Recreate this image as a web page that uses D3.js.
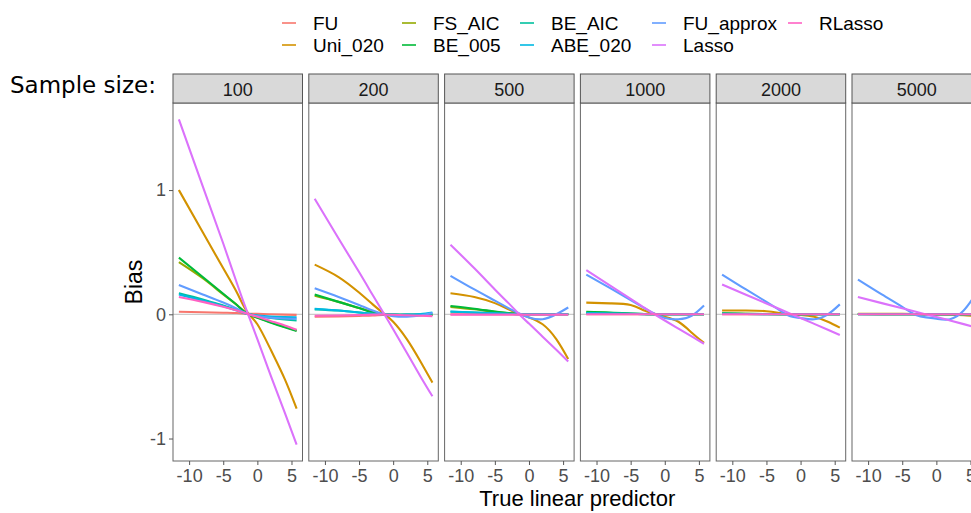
<!DOCTYPE html>
<html>
<head>
<meta charset="utf-8">
<script src="https://cdn.jsdelivr.net/npm/d3@7/dist/d3.min.js"></script>
<style>
  html, body { margin: 0; padding: 0; background: #fff; overflow: hidden; }
  svg { display: block; }
</style>
</head>
<body>
<svg id="chart" width="971" height="513"></svg>
<script>
// ---- data ---------------------------------------------------------------
const sampleSizes = ["100", "200", "500", "1000", "2000", "5000"];
const methods = ["FU", "Uni_020", "FS_AIC", "BE_005", "BE_AIC", "ABE_020", "FU_approx", "Lasso", "RLasso"];
const methodColors = ["#F8766D", "#D39200", "#93AA00", "#00BA38", "#00C19F", "#00B9E3", "#619CFF", "#DB72FB", "#FF61C3"];
const truePredictor = [-11.5, -8, -5, -3, -1.5, 0, 2, 4, 5.75];
const xTicks = [-10, -5, 0, 5];
const yTicks = [-1, 0, 1];

// smoothed bias curves, one row per method (same order as `methods`)
const bias100 = [
  [0.02, 0.017, 0.013, 0.01, 0.005, 0.003, 0, -0.003, -0.005],
  [1.0, 0.66, 0.37, 0.175, 0.02, -0.08, -0.29, -0.52, -0.76],
  [0.42, 0.29, 0.16, 0.075, 0.005, -0.025, -0.065, -0.1, -0.13],
  [0.456, 0.30, 0.165, 0.075, 0.005, -0.028, -0.068, -0.105, -0.135],
  [0.17, 0.12, 0.07, 0.035, 0.005, -0.012, -0.03, -0.042, -0.05],
  [0.16, 0.11, 0.065, 0.03, 0.003, -0.01, -0.018, -0.022, -0.025],
  [0.236, 0.16, 0.095, 0.045, 0.005, -0.015, -0.028, -0.034, -0.036],
  [1.57, 1.03, 0.57, 0.25, 0.02, -0.2, -0.5, -0.79, -1.05],
  [0.14, 0.10, 0.06, 0.03, 0.005, -0.02, -0.055, -0.09, -0.125]
];
const bias200 = [
  [-0.02, -0.017, -0.013, -0.01, -0.006, -0.005, -0.005, -0.005, -0.005],
  [0.40, 0.30, 0.175, 0.08, 0.012, -0.06, -0.2, -0.38, -0.55],
  [0.15, 0.10, 0.05, 0.02, 0.003, -0.005, -0.008, -0.008, -0.005],
  [0.16, 0.10, 0.05, 0.016, 0.002, -0.003, -0.005, -0.005, -0.005],
  [0.04, 0.03, 0.015, 0.005, 0, -0.003, -0.003, 0, 0.005],
  [0.045, 0.03, 0.015, 0.005, 0, -0.003, -0.003, 0.003, 0.015],
  [0.21, 0.14, 0.075, 0.03, 0.003, -0.015, -0.02, -0.01, 0.01],
  [0.93, 0.61, 0.34, 0.155, 0.018, -0.12, -0.31, -0.5, -0.66],
  [-0.012, -0.01, -0.006, -0.003, -0.002, -0.004, -0.008, -0.012, -0.015]
];
const bias500 = [
  [0, 0, 0, 0, 0, 0, 0, 0, 0],
  [0.17, 0.14, 0.09, 0.04, 0.005, -0.025, -0.08, -0.2, -0.36],
  [0.06, 0.04, 0.02, 0.01, 0.002, 0, 0, 0, 0],
  [0.067, 0.045, 0.022, 0.01, 0.003, 0, 0, 0, 0],
  [0.02, 0.015, 0.008, 0.004, 0, 0, 0, 0, 0],
  [0.022, 0.015, 0.008, 0.004, 0, 0, 0, 0, 0],
  [0.31, 0.20, 0.11, 0.05, 0.008, -0.025, -0.04, 0.0, 0.055],
  [0.56, 0.37, 0.20, 0.09, 0.005, -0.075, -0.18, -0.285, -0.38],
  [-0.003, -0.003, -0.003, -0.003, -0.003, -0.003, -0.003, -0.003, -0.003]
];
const bias1000 = [
  [0, 0, 0, 0, 0, 0, 0, 0, 0],
  [0.094, 0.088, 0.075, 0.03, 0.005, -0.02, -0.06, -0.15, -0.23],
  [0.015, 0.01, 0.005, 0.002, 0, 0, 0, 0, 0],
  [0.02, 0.015, 0.007, 0.002, 0, 0, 0, 0, 0],
  [0.01, 0.007, 0.004, 0.001, 0, 0, 0, 0, 0],
  [0.01, 0.007, 0.004, 0.001, 0, 0, 0, 0, 0],
  [0.32, 0.21, 0.115, 0.05, 0.005, -0.03, -0.04, -0.01, 0.07],
  [0.355, 0.23, 0.125, 0.053, 0.0, -0.05, -0.115, -0.18, -0.237],
  [0, 0, 0, 0, 0, 0, 0, 0, 0]
];
const bias2000 = [
  [0, 0, 0, 0, 0, 0, 0, 0, 0],
  [0.03, 0.03, 0.025, 0.01, 0.0, -0.005, -0.02, -0.06, -0.107],
  [0.006, 0.004, 0.002, 0, 0, 0, 0, 0, 0],
  [0.008, 0.005, 0.002, 0, 0, 0, 0, 0, 0],
  [0.003, 0.002, 0.001, 0, 0, 0, 0, 0, 0],
  [0.003, 0.002, 0.001, 0, 0, 0, 0, 0, 0],
  [0.32, 0.20, 0.10, 0.03, -0.015, -0.03, -0.04, 0.0, 0.08],
  [0.24, 0.158, 0.087, 0.04, 0.005, -0.03, -0.077, -0.125, -0.167],
  [0, 0, 0, 0, 0, 0, 0, 0, 0]
];
const bias5000 = [
  [0, 0, 0, 0, 0, 0, 0, 0, 0],
  [0.005, 0.005, 0.004, 0.002, 0, -0.001, -0.003, -0.008, -0.015],
  [0.002, 0.001, 0, 0, 0, 0, 0, 0, 0],
  [0.002, 0.001, 0, 0, 0, 0, 0, 0, 0],
  [0.001, 0, 0, 0, 0, 0, 0, 0, 0],
  [0.001, 0, 0, 0, 0, 0, 0, 0, 0],
  [0.28, 0.16, 0.06, -0.005, -0.025, -0.035, -0.04, 0.03, 0.16],
  [0.14, 0.09, 0.048, 0.02, -0.001, -0.022, -0.05, -0.079, -0.105],
  [0, 0, 0, 0, 0, 0, 0, 0, 0]
];
const biasByPanel = [bias100, bias200, bias500, bias1000, bias2000, bias5000];

// ---- layout -------------------------------------------------------------
const svg = d3.select("#chart");
const panelTop = 103, panelBottom = 461;
const stripTop = 74;
const firstLeft = 173, panelW = 129.5, panelStep = 135.8;
const fontSans = "'Liberation Sans', Arial, Helvetica, sans-serif";
const plainNumber = d => String(d);   // ASCII hyphen for negatives

const xDomain = d3.extent(truePredictor);
const xPad = (xDomain[1] - xDomain[0]) * 0.05;
const allBias = biasByPanel.flat(2);
const yMin = d3.min(allBias), yMax = d3.max(allBias);
const yPad = (yMax - yMin) * 0.05;

const y = d3.scaleLinear().domain([yMin - yPad, yMax + yPad]).range([panelBottom, panelTop]);

const color = d3.scaleOrdinal().domain(methods).range(methodColors);

svg.append("defs").selectAll("clipPath")
  .data(sampleSizes)
  .join("clipPath")
  .attr("id", (d, i) => "clip" + i)
  .append("rect")
  .attr("x", (d, i) => firstLeft + i * panelStep)
  .attr("y", panelTop)
  .attr("width", panelW)
  .attr("height", panelBottom - panelTop);

sampleSizes.forEach((n, i) => {
  const left = firstLeft + i * panelStep;
  const x = d3.scaleLinear()
    .domain([xDomain[0] - xPad, xDomain[1] + xPad])
    .range([left, left + panelW]);

  const g = svg.append("g");

  // panel background
  g.append("rect")
    .attr("x", left).attr("y", panelTop)
    .attr("width", panelW).attr("height", panelBottom - panelTop)
    .attr("fill", "#fff");

  // reference line at zero bias
  g.append("line")
    .attr("x1", left).attr("x2", left + panelW)
    .attr("y1", y(0)).attr("y2", y(0))
    .attr("stroke", "#BEBEBE").attr("stroke-width", 1);

  // bias curves
  const line = d3.line()
    .x((d, k) => x(truePredictor[k]))
    .y(d => y(d))
    .curve(d3.curveNatural);

  g.append("g")
    .attr("clip-path", `url(#clip${i})`)
    .selectAll("path")
    .data(biasByPanel[i])
    .join("path")
    .attr("d", line)
    .attr("fill", "none")
    .attr("stroke", (d, k) => color(methods[k]))
    .attr("stroke-width", 2.1)
    .attr("stroke-linejoin", "round")
    .attr("stroke-linecap", "butt");

  // panel border
  g.append("rect")
    .attr("x", left).attr("y", panelTop)
    .attr("width", panelW).attr("height", panelBottom - panelTop)
    .attr("fill", "none").attr("stroke", "#666").attr("stroke-width", 1);

  // facet strip
  g.append("rect")
    .attr("x", left).attr("y", stripTop)
    .attr("width", panelW).attr("height", panelTop - stripTop)
    .attr("fill", "#D9D9D9").attr("stroke", "#555").attr("stroke-width", 1);
  g.append("text")
    .attr("x", left + panelW / 2).attr("y", 96)
    .attr("text-anchor", "middle")
    .attr("font-family", fontSans).attr("font-size", 18)
    .attr("fill", "#1A1A1A")
    .text(n);

  // x axis
  const xAxis = g.append("g")
    .attr("transform", `translate(0,${panelBottom})`)
    .call(d3.axisBottom(x).tickValues(xTicks).tickSize(4).tickPadding(4).tickFormat(plainNumber));
  xAxis.select(".domain").remove();
  xAxis.selectAll(".tick line").attr("stroke", "#555");
  xAxis.selectAll(".tick text")
    .attr("font-family", fontSans).attr("font-size", 18).attr("fill", "#4D4D4D");

  // y axis on the first panel only
  if (i === 0) {
    const yAxis = g.append("g")
      .attr("transform", `translate(${left},0)`)
      .call(d3.axisLeft(y).tickValues(yTicks).tickSize(4).tickPadding(3).tickFormat(plainNumber));
    yAxis.select(".domain").remove();
    yAxis.selectAll(".tick line").attr("stroke", "#555");
    yAxis.selectAll(".tick text")
      .attr("font-family", fontSans).attr("font-size", 18).attr("fill", "#4D4D4D");
  }
});

// axis titles
svg.append("text")
  .attr("x", firstLeft + (5 * panelStep + panelW) / 2).attr("y", 506)
  .attr("text-anchor", "middle")
  .attr("font-family", fontSans).attr("font-size", 22).attr("fill", "#000")
  .text("True linear predictor");

svg.append("text")
  .attr("transform", `translate(142,${(panelTop + panelBottom) / 2}) rotate(-90)`)
  .attr("text-anchor", "middle")
  .attr("font-family", fontSans).attr("font-size", 23).attr("fill", "#000")
  .text("Bias");

// facet caption
svg.append("text")
  .attr("x", 10).attr("y", 93)
  .attr("font-family", "'DejaVu Sans', Verdana, sans-serif").attr("font-size", 23)
  .attr("fill", "#000")
  .text("Sample size:");

// legend: two rows, filled column by column
const legendCols = [282, 402, 520, 652, 788];
const legendRows = [23, 45];
const legend = svg.append("g");
methods.forEach((m, k) => {
  const col = Math.floor(k / 2), row = k % 2;
  const lx = legendCols[col], ly = legendRows[row];
  legend.append("line")
    .attr("x1", lx).attr("x2", lx + 14)
    .attr("y1", ly).attr("y2", ly)
    .attr("stroke", color(m)).attr("stroke-width", 1.6);
  legend.append("text")
    .attr("x", lx + 31).attr("y", ly + 7)
    .attr("font-family", fontSans).attr("font-size", 19)
    .attr("fill", "#000")
    .text(m);
});
</script>
</body>
</html>
